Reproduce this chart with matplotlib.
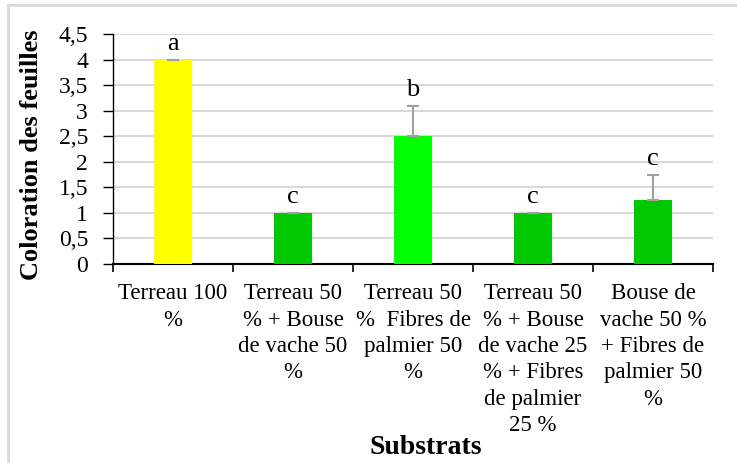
import matplotlib
matplotlib.use("Agg")
import matplotlib.pyplot as plt
from matplotlib.lines import Line2D

categories = ["Terreau 100\n%",
              "Terreau 50\n% + Bouse\nde vache 50\n%",
              "Terreau 50\n%  Fibres de\npalmier 50\n%",
              "Terreau 50\n% + Bouse\nde vache 25\n% + Fibres\nde palmier\n25 %",
              "Bouse de\nvache 50 %\n+ Fibres de\npalmier 50\n%"]
values = [4.0, 1.0, 2.5, 1.0, 1.25]
errors = [0.0, 0.0, 0.6, 0.0, 0.5]
letters = ["a", "c", "b", "c", "c"]
colors = ["#FFFF00", "#00C800", "#00FF00", "#00C800", "#00C800"]
yticks = [0, 0.5, 1, 1.5, 2, 2.5, 3, 3.5, 4, 4.5]
ytick_labels = ["0", "0,5", "1", "1,5", "2", "2,5", "3", "3,5", "4", "4,5"]

plt.rcParams['font.family'] = ['Liberation Serif', 'DejaVu Serif']

W, H = 737, 463
fig = plt.figure(figsize=(W/100, H/100), dpi=100)
ax = fig.add_axes([113/W, 1 - 264/H, 600/W, (264-34)/H])

x = list(range(len(values)))
ax.bar(x, values, width=0.32, color=colors, zorder=3)
ax.errorbar(x, values, yerr=[[0]*len(errors), errors], fmt='none',
            ecolor='#A0A0A0', elinewidth=1.5, capsize=4.5, capthick=1.5, zorder=4)
for xi, v, e, l in zip(x, values, errors, letters):
    ax.annotate(l, (xi, v + e), xytext=(0, 3.5), textcoords='offset points',
                ha='center', va='bottom', fontsize=19)

ax.set_xlim(-0.5, len(values) - 0.5)
ax.set_ylim(0, 4.5)
ax.set_yticks(yticks)
ax.set_yticklabels(ytick_labels, fontsize=17)
ax.yaxis.grid(True, color='#D9D9D9', linewidth=1.5, zorder=0)
ax.set_axisbelow(True)

ax.set_xticks(x)
ax.set_xticklabels(categories, fontsize=16.5, linespacing=1.33, va='top')
ax.set_xticks([i - 0.5 for i in range(len(values) + 1)], minor=True)
ax.tick_params(axis='x', which='major', length=0, pad=14)
ax.tick_params(axis='x', which='minor', length=6, width=1.2, direction='out')
ax.tick_params(axis='y', length=7, width=1.0, direction='out', pad=11)

for s in ['top', 'right']:
    ax.spines[s].set_visible(False)
ax.spines['left'].set_linewidth(1.0)
ax.spines['bottom'].set_linewidth(1.5)

fig.text(31/W, 1 - 155/H, "Coloration des feuilles", fontsize=19, fontweight='bold',
         rotation=90, ha='center', va='center')
fig.text(426/W, 1 - 448/H, "Substrats", fontsize=20, fontweight='bold',
         ha='center', va='center')

# outer frame
fig.add_artist(Line2D([8/W, 8/W], [0, 1 - 5/H], transform=fig.transFigure,
                      color='#D9D9D9', linewidth=2))
fig.add_artist(Line2D([8/W, 1], [1 - 5/H, 1 - 5/H], transform=fig.transFigure,
                      color='#D9D9D9', linewidth=2))

fig.savefig("out.png", dpi=100)
